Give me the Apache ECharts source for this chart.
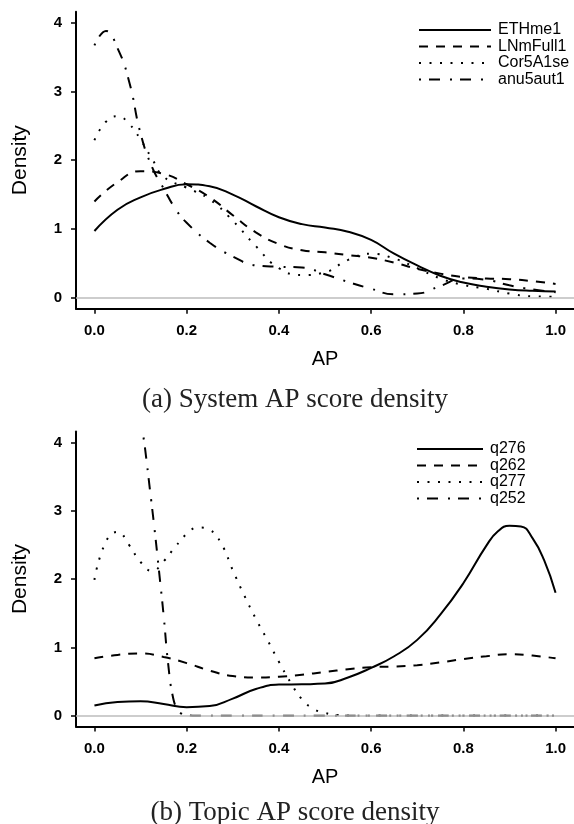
<!DOCTYPE html>
<html>
<head>
<meta charset="utf-8">
<script src="https://cdn.jsdelivr.net/npm/echarts@6/dist/echarts.min.js"></script>
<style>
html,body{margin:0;padding:0;background:#fff;}
#c{width:574px;height:824px;}
</style>
</head>
<body>
<div id="c"></div>
<script>
// ---------- data (panel a: system AP score density) ----------
const xTicks = [0, 0.2, 0.4, 0.6, 0.8, 1.0];
const yTicks = [0, 1, 2, 3, 4];

const sysNames = ['ETHme1', 'LNmFull1', 'Cor5A1se', 'anu5aut1'];
const topicNames = ['q276', 'q262', 'q277', 'q252'];

const x05 = [0,0.05,0.1,0.15,0.2,0.25,0.3,0.35,0.4,0.45,0.5,0.55,0.6,0.65,0.7,0.75,0.8,0.85,0.9,0.95,1.0];

const ethme1Y   = [0.97,1.28,1.46,1.58,1.65,1.62,1.50,1.33,1.17,1.07,1.02,0.96,0.84,0.64,0.47,0.32,0.22,0.16,0.12,0.10,0.09];
const lnmfull1Y = [1.40,1.68,1.84,1.80,1.65,1.46,1.20,0.95,0.78,0.69,0.66,0.62,0.58,0.51,0.42,0.35,0.30,0.28,0.27,0.24,0.20];

const cor5X = [0,0.025,0.05,0.075,0.1,0.125,0.15,0.2,0.25,0.3,0.35,0.4,0.45,0.5,0.55,0.6,0.65,0.7,0.75,0.8,0.85,0.9,0.95,1.0];
const cor5Y = [2.29,2.56,2.64,2.53,2.30,2.02,1.76,1.60,1.43,1.12,0.75,0.43,0.33,0.37,0.55,0.64,0.57,0.43,0.28,0.185,0.13,0.06,0.02,0.015];

const anu5X = [0,0.025,0.05,0.075,0.1,0.125,0.15,0.175,0.2,0.25,0.3,0.35,0.4,0.45,0.5,0.55,0.6,0.65,0.7,0.75,0.8,0.85,0.9,0.95,1.0];
const anu5Y = [3.67,3.88,3.63,3.15,2.39,1.90,1.59,1.30,1.09,0.80,0.60,0.47,0.45,0.44,0.34,0.23,0.13,0.05,0.06,0.17,0.28,0.26,0.18,0.12,0.08];

// ---------- data (panel b: topic AP score density) ----------
const q276X = [0,0.05,0.1,0.15,0.2,0.25,0.3,0.35,0.4,0.45,0.5,0.55,0.6,0.65,0.7,0.75,0.8,0.85,0.875,0.9,0.925,0.95,0.975,1.0];
const q276Y = [0.15,0.20,0.21,0.17,0.125,0.14,0.25,0.39,0.455,0.46,0.47,0.56,0.70,0.87,1.11,1.48,1.94,2.49,2.70,2.78,2.77,2.60,2.28,1.80];

const q262Y = [0.84,0.89,0.91,0.86,0.77,0.66,0.58,0.56,0.57,0.60,0.64,0.68,0.71,0.72,0.74,0.78,0.83,0.87,0.90,0.88,0.84];

const q277X = [0,0.025,0.05,0.075,0.1,0.125,0.15,0.175,0.2,0.225,0.25,0.275,0.3,0.325,0.35,0.375,0.4,0.425,0.45,0.475,0.5,0.525,0.55,0.6,0.7,0.8,0.9,1.0];
const q277Y = [1.99,2.55,2.69,2.50,2.25,2.12,2.26,2.47,2.66,2.755,2.72,2.52,2.13,1.76,1.42,1.11,0.79,0.49,0.24,0.10,0.04,0.01,0,0,0,0,0,0];

const q252X = [0,0.025,0.05,0.075,0.1,0.11,0.12,0.13,0.14,0.15,0.16,0.17,0.18,0.19,0.2,0.22,0.25,0.3,0.4,0.5,0.6,0.7,0.8,0.9,1.0];
const q252Y = [9.8,10.3,9.2,6.9,4.42,3.90,3.33,2.75,2.12,1.47,0.75,0.28,0.09,0.025,0.01,0,0,0,0,0,0,0,0,0,0];

// ---------- chart ----------
const pairs = (xs, ys) => xs.map((x, i) => [x, ys[i]]);

const FONT = 'Liberation Sans';
const DASH = [9, 8];
const DOT = [2, 8.5];
const DOTDASH = [2, 8, 11, 10];

function makeAxes(gridIndex) {
  const xAxis = {
    type: 'value', gridIndex, min: -0.04, max: 1.04,
    splitLine: { show: false },
    axisLine: { onZero: false, lineStyle: { color: '#000', width: 2 } },
    axisTick: { show: true, length: 5, lineStyle: { color: '#000', width: 1.5 }, customValues: xTicks },
    axisLabel: { customValues: xTicks, formatter: v => v.toFixed(1), color: '#000', fontFamily: FONT, fontWeight: 'bold', fontSize: 15, margin: 15 },
    name: 'AP', nameLocation: 'middle', nameGap: 41,
    nameTextStyle: { fontFamily: FONT, fontSize: 20, color: '#000' }
  };
  const yAxis = {
    type: 'value', gridIndex, min: -0.16, max: 4.16,
    splitLine: { show: false },
    axisLine: { show: true, onZero: false, lineStyle: { color: '#000', width: 2 } },
    axisTick: { show: true, length: 5, lineStyle: { color: '#000', width: 1.5 }, customValues: yTicks },
    axisLabel: { customValues: yTicks, formatter: v => String(v), color: '#000', fontFamily: FONT, fontWeight: 'bold', fontSize: 15, margin: 14 },
    name: 'Density', nameLocation: 'middle', nameGap: 45,
    nameTextStyle: { fontFamily: FONT, fontSize: 21, color: '#000' }
  };
  return { xAxis, yAxis };
}

const a0 = makeAxes(0), a1 = makeAxes(1);

function lineSeries(name, data, idx, type) {
  return {
    name, type: 'line', data, xAxisIndex: idx, yAxisIndex: idx,
    smooth: 0.5, symbol: 'none', showSymbol: false, clip: true,
    lineStyle: { color: '#000', width: 2, type, cap: 'butt' },
    itemStyle: { color: '#000' },
    emphasis: { disabled: true }, silent: true, animation: false
  };
}

const zeroLine = {
  silent: true, symbol: 'none', label: { show: false },
  lineStyle: { color: '#bdbdbd', width: 1.5, type: 'solid' },
  data: [{ yAxis: 0 }], animation: false
};

const series = [
  lineSeries(sysNames[0], pairs(x05, ethme1Y), 0, 'solid'),
  lineSeries(sysNames[1], pairs(x05, lnmfull1Y), 0, DASH),
  lineSeries(sysNames[2], pairs(cor5X, cor5Y), 0, DOT),
  lineSeries(sysNames[3], pairs(anu5X, anu5Y), 0, DOTDASH),
  lineSeries(topicNames[0], pairs(q276X, q276Y), 1, 'solid'),
  lineSeries(topicNames[1], pairs(x05, q262Y), 1, DASH),
  lineSeries(topicNames[2], pairs(q277X, q277Y), 1, DOT),
  lineSeries(topicNames[3], pairs(q252X, q252Y), 1, DOTDASH)
];
series[3].markLine = zeroLine;
series[7].markLine = zeroLine;

function legend(names, left, top, w) {
  return {
    data: names, orient: 'vertical', left, top, padding: 0,
    itemWidth: w, itemHeight: 14, itemGap: 0.5, selectedMode: false,
    itemStyle: { opacity: 0 },
    textStyle: { fontFamily: FONT, fontSize: 16, color: '#000', padding: [0, 0, 0, 2] }
  };
}

const option = {
  backgroundColor: '#fff',
  animation: false,
  title: [
    { text: '(a) System AP score density', left: 290, top: 381, textAlign: 'center',
      textStyle: { fontFamily: 'Liberation Serif', fontWeight: 'normal', fontSize: 27, color: '#222' } },
    { text: '(b) Topic AP score density', left: 290, top: 794, textAlign: 'center',
      textStyle: { fontFamily: 'Liberation Serif', fontWeight: 'normal', fontSize: 27, color: '#222' } }
  ],
  grid: [
    { left: 76, top: 11.7, width: 500.5, height: 297 },
    { left: 76, top: 431.6, width: 500.5, height: 295 }
  ],
  xAxis: [a0.xAxis, a1.xAxis],
  yAxis: [a0.yAxis, a1.yAxis],
  legend: [legend(sysNames, 418, 22, 72), legend(topicNames, 416, 441, 66)],
  series
};

const chart = echarts.init(document.getElementById('c'), null, { renderer: 'canvas' });
chart.setOption(option);
</script>
</body>
</html>
